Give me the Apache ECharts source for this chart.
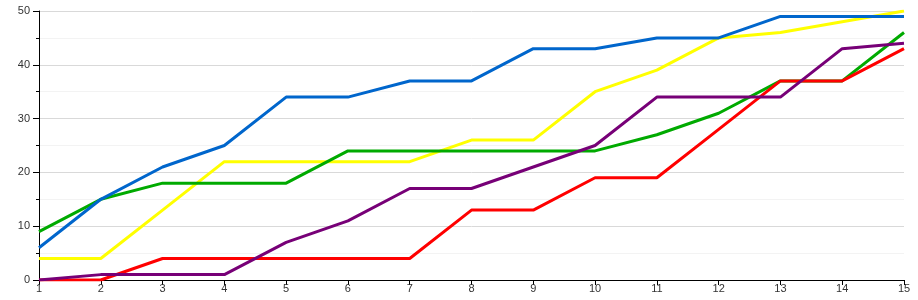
<!DOCTYPE html>
<html><head><meta charset="utf-8">
<script src="https://cdn.jsdelivr.net/npm/echarts@6/dist/echarts.min.js"></script>
<style>html,body{margin:0;padding:0;background:#fff}#c{width:918px;height:300px}</style>
</head><body><div id="c"></div>
<script>
const categories = ['1','2','3','4','5','6','7','8','9','10','11','12','13','14','15'];
const blueValues   = [6, 15, 21, 25, 34, 34, 37, 37, 43, 43, 45, 45, 49, 49, 49];
const yellowValues = [4, 4, 13, 22, 22, 22, 22, 26, 26, 35, 39, 45, 46, 48, 50];
const greenValues  = [9, 15, 18, 18, 18, 24, 24, 24, 24, 24, 27, 31, 37, 37, 46];
const purpleValues = [0, 1, 1, 1, 7, 11, 17, 17, 21, 25, 34, 34, 34, 43, 44];
const redValues    = [0, 0, 4, 4, 4, 4, 4, 13, 13, 19, 19, 28, 37, 37, 43];
const yTicks = [0, 10, 20, 30, 40, 50];

function line(data, color) {
  return {type: 'line', data: data, symbol: 'none', smooth: false,
    lineStyle: {color: color, width: 3}, itemStyle: {color: color}, animation: false};
}
const chart = echarts.init(document.getElementById('c'), null, {renderer: 'canvas'});
chart.setOption({
  animation: false,
  grid: {left: 39, right: 14, top: 11, bottom: 20},
  xAxis: {
    type: 'category', data: categories, boundaryGap: false,
    axisLine: {lineStyle: {color: '#000', width: 1}},
    axisTick: {show: true, length: 5, lineStyle: {color: '#000'}},
    axisLabel: {color: '#333', fontSize: 11, fontFamily: 'Liberation Sans, Arial, sans-serif', margin: 3},
    splitLine: {show: false}
  },
  yAxis: {
    type: 'value', min: yTicks[0], max: yTicks[yTicks.length - 1], interval: 10,
    axisLine: {show: true, lineStyle: {color: '#000', width: 1}},
    axisTick: {show: true, inside: false, length: 6, lineStyle: {color: '#000'}},
    minorTick: {show: true, splitNumber: 2, length: 3, lineStyle: {color: '#000'}},
    axisLabel: {color: '#333', fontSize: 11, fontFamily: 'Liberation Sans, Arial, sans-serif', margin: 9},
    splitLine: {show: true, lineStyle: {color: '#d9d9d9', width: 1}},
    minorSplitLine: {show: true, lineStyle: {color: '#f3f3f3', width: 1}}
  },
  series: [
    line(yellowValues, '#ffff00'),
    line(greenValues, '#00aa00'),
    line(redValues, '#ff0000'),
    line(purpleValues, '#770077'),
    line(blueValues, '#0066cc')
  ]
});
</script></body></html>
